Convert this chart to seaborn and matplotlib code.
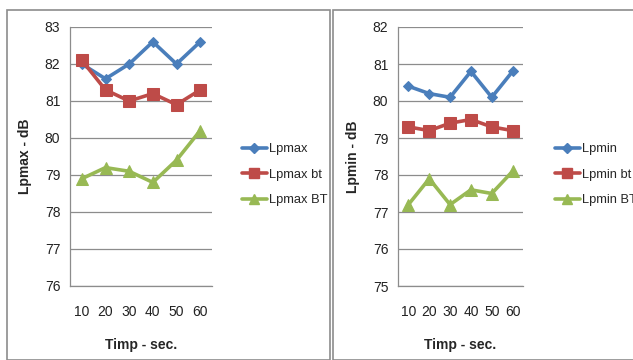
import matplotlib
matplotlib.use("Agg")
import matplotlib.pyplot as plt
import seaborn as sns
import pandas as pd
from matplotlib.patches import Rectangle
from matplotlib.lines import Line2D

times = [10, 20, 30, 40, 50, 60]

lpmax = [82.0, 81.6, 82.0, 82.6, 82.0, 82.6]
lpmax_bt_low = [82.1, 81.3, 81.0, 81.2, 80.9, 81.3]
lpmax_bt_up = [78.9, 79.2, 79.1, 78.8, 79.4, 80.2]

lpmin = [80.4, 80.2, 80.1, 80.8, 80.1, 80.8]
lpmin_bt_low = [79.3, 79.2, 79.4, 79.5, 79.3, 79.2]
lpmin_bt_up = [77.2, 77.9, 77.2, 77.6, 77.5, 78.1]

max_names = ["Lpmax", "Lpmax bt", "Lpmax BT"]
min_names = ["Lpmin", "Lpmin bt", "Lpmin BT"]

colors = ["#4A7EBB", "#BE4B48", "#98B954"]
markers = ["D", "s", "^"]
msizes = [5.5, 8.5, 8.5]

sns.set_theme(style="white")
plt.rcParams["font.family"] = ["Liberation Sans", "DejaVu Sans"]

fig = plt.figure(figsize=(6.33, 3.6), dpi=100)

# panel frames
fig.patches.append(Rectangle((7 / 633, 0), 323 / 633, 350 / 360, transform=fig.transFigure,
                             fill=False, edgecolor="#8C8C8C", linewidth=1.2))
fig.patches.append(Rectangle((333 / 633, 0), 310 / 633, 350 / 360, transform=fig.transFigure,
                             fill=False, edgecolor="#8C8C8C", linewidth=1.2))


def panel(rect, series, names, ylim, ylabel, legend_x):
    ax = fig.add_axes(rect)
    frames = []
    for vals, name in zip(series, names):
        frames.append(pd.DataFrame({"t": times, "v": vals, "s": name}))
    df = pd.concat(frames, ignore_index=True)
    for (name, c, m, ms) in zip(names, colors, markers, msizes):
        sns.lineplot(data=df[df["s"] == name], x="t", y="v", color=c, marker=m,
                     markersize=ms, markeredgecolor=c, linewidth=2.6, ax=ax,
                     legend=False, zorder=3)
    ax.set_xlim(5, 65)
    ax.set_ylim(*ylim)
    ax.set_xticks(times)
    ax.set_xticklabels([str(t) for t in times])
    ax.set_yticks(range(ylim[0], ylim[1] + 1))
    ax.yaxis.grid(True, color="#8C8C8C", linewidth=0.9)
    ax.set_axisbelow(True)
    for sp in ["top", "right"]:
        ax.spines[sp].set_visible(False)
    for sp in ["left", "bottom"]:
        ax.spines[sp].set_color("#8C8C8C")
        ax.spines[sp].set_linewidth(0.9)
    ax.tick_params(axis="both", labelsize=10, colors="#222222", length=0, pad=7)
    ax.tick_params(axis="x", pad=14)
    ax.set_xlabel("Timp - sec.", fontsize=10, fontweight="bold", labelpad=13)
    ax.set_ylabel(ylabel, fontsize=10, fontweight="bold", labelpad=9)
    handles = [Line2D([], [], color=c, marker=m, markersize=ms * 0.9, linewidth=2.6)
               for c, m, ms in zip(colors, markers, msizes)]
    fig.legend(handles, names, loc="upper left", bbox_to_anchor=(legend_x, 0.617),
               frameon=False, fontsize=9.3, handlelength=1.9, handletextpad=0.15,
               labelspacing=1.05, borderaxespad=0)
    return ax


panel([70 / 633, 1 - 286 / 360, 142 / 633, 259 / 360],
      [lpmax, lpmax_bt_low, lpmax_bt_up], max_names, (76, 83), "Lpmax - dB", 237 / 633)
panel([398 / 633, 1 - 286 / 360, 125 / 633, 259 / 360],
      [lpmin, lpmin_bt_low, lpmin_bt_up], min_names, (75, 82), "Lpmin - dB", 550 / 633)

fig.savefig("out.png", dpi=100)
